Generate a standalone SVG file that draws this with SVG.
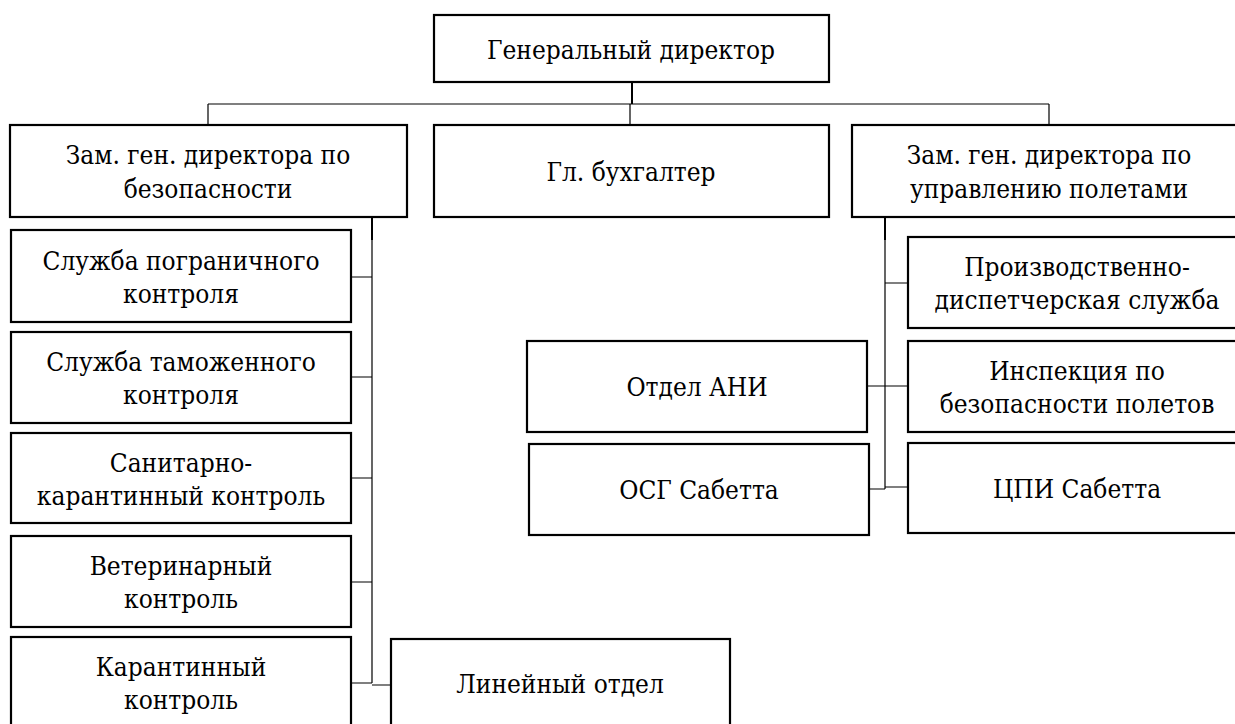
<svg xmlns="http://www.w3.org/2000/svg" width="1235" height="724" viewBox="0 0 1235 724">
<style>
.box{fill:#fff;stroke:#000;stroke-width:2.2}
.t{font-family:"DejaVu Serif Condensed","DejaVu Serif",serif;font-stretch:condensed;font-size:26px;fill:#000;text-anchor:middle}
.c{fill:none;stroke:#000;stroke-width:1.2}
.ct{fill:none;stroke:#000;stroke-width:2}
</style>
<rect width="1235" height="724" fill="#fff"/>
<g id="connectors">
<path class="ct" d="M632,82V104"/>
<path class="c" d="M208,104H1049M208,104V125M630,104V125M1049,104V125"/>
<path class="ct" d="M372,217V240"/>
<path class="c" d="M372,240V683M351,277H372M351,377H372M351,478H372M351,582H372M351,683H372M372,685H391"/>
<path class="ct" d="M885,217V240"/>
<path class="c" d="M885,240V489M885,283H908M885,386H908M885,487H908M867,386H885M869,489H885"/>
</g>
<g id="n-gendir"><rect class="box" x="434" y="15" width="395" height="67"/><text class="t" x="631" y="59">Генеральный директор</text></g>
<g id="n-zam-bez"><rect class="box" x="10" y="125" width="397" height="92"/><text class="t" x="208" y="164">Зам. ген. директора по</text><text class="t" x="208" y="198">безопасности</text></g>
<g id="n-buh"><rect class="box" x="434" y="125" width="395" height="92"/><text class="t" x="631" y="181">Гл. бухгалтер</text></g>
<g id="n-zam-upr"><rect class="box" x="852" y="125" width="394" height="92"/><text class="t" x="1049" y="164">Зам. ген. директора по</text><text class="t" x="1049" y="198">управлению полетами</text></g>
<g id="n-pogr"><rect class="box" x="11" y="230" width="340" height="92"/><text class="t" x="181" y="270">Служба пограничного</text><text class="t" x="181" y="303">контроля</text></g>
<g id="n-tam"><rect class="box" x="11" y="332" width="340" height="91"/><text class="t" x="181" y="371">Служба таможенного</text><text class="t" x="181" y="404">контроля</text></g>
<g id="n-san"><rect class="box" x="11" y="433" width="340" height="90"/><text class="t" x="181" y="472">Санитарно-</text><text class="t" x="181" y="505">карантинный контроль</text></g>
<g id="n-vet"><rect class="box" x="11" y="536" width="340" height="91"/><text class="t" x="181" y="575">Ветеринарный</text><text class="t" x="181" y="608">контроль</text></g>
<g id="n-kar"><rect class="box" x="11" y="637" width="340" height="92"/><text class="t" x="181" y="676">Карантинный</text><text class="t" x="181" y="709">контроль</text></g>
<g id="n-lin"><rect class="box" x="391" y="639" width="339" height="92"/><text class="t" x="560" y="693">Линейный отдел</text></g>
<g id="n-pds"><rect class="box" x="908" y="237" width="338" height="91"/><text class="t" x="1077" y="276">Производственно-</text><text class="t" x="1077" y="309">диспетчерская служба</text></g>
<g id="n-insp"><rect class="box" x="908" y="341" width="338" height="91"/><text class="t" x="1077" y="380">Инспекция по</text><text class="t" x="1077" y="413">безопасности полетов</text></g>
<g id="n-cpi"><rect class="box" x="908" y="443" width="338" height="90"/><text class="t" x="1077" y="498">ЦПИ Сабетта</text></g>
<g id="n-ani"><rect class="box" x="527" y="341" width="340" height="91"/><text class="t" x="697" y="396">Отдел АНИ</text></g>
<g id="n-osg"><rect class="box" x="529" y="444" width="340" height="91"/><text class="t" x="699" y="499">ОСГ Сабетта</text></g>
</svg>
